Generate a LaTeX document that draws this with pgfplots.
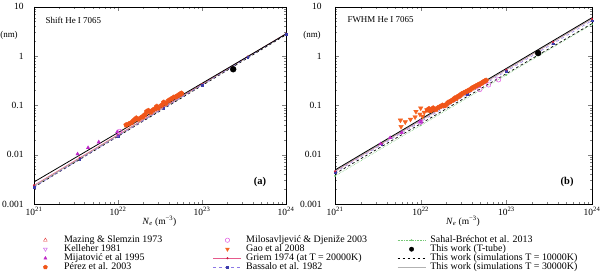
\documentclass[border=0pt]{standalone}
\usepackage{fontspec}
\setmainfont{Liberation Serif}
\usepackage{pgfplots}
\pgfplotsset{compat=1.18}

\definecolor{perez}{RGB}{240,85,25}
\definecolor{perezfit}{RGB}{200,50,20}
\definecolor{gao}{RGB}{245,100,35}
\definecolor{mija}{RGB}{190,40,200}
\definecolor{milo}{RGB}{220,60,220}
\definecolor{kell}{RGB}{200,80,230}
\definecolor{maz}{RGB}{230,50,50}
\definecolor{griem}{RGB}{230,90,140}
\definecolor{griemm}{RGB}{200,30,60}
\definecolor{bass}{RGB}{140,120,230}
\definecolor{bassm}{RGB}{60,60,170}
\definecolor{sahal}{RGB}{120,200,120}

\pgfplotsset{
  legend image code/.code={\draw[mark repeat=2,mark phase=2,#1] plot coordinates {(0bp,0bp) (14bp,0bp) (28bp,0bp)};},
  legax/.style={hide axis, scale only axis, width=10bp, height=10bp, anchor=south west,
    xmin=0, xmax=1, ymin=0, ymax=1,
    legend style={at={(0,0)}, anchor=north west, draw=none, fill=none,
      inner sep=0pt, row sep=0pt,
      cells={anchor=west},
      nodes={font=\fontsize{10}{10}\selectfont, inner xsep=4.5bp, inner ysep=0bp,
        text height=7bp, text depth=2bp}},
    legend cell align=left},
  nolin/.style={dash pattern=on 0pt off 100bp, mark options={solid}},
}

\begin{document}
\begin{tikzpicture}[x=1bp,y=1bp]
\useasboundingbox (0,0) rectangle (600,278);

% ---------------- (a) Shift ----------------
\begin{axis}[at={(34bp,74bp)}, anchor=south west, scale only axis,
  width=252bp, height=197.3bp,
  xmode=log, ymode=log,
  xmin=1e21, xmax=1e24, ymin=0.001, ymax=10,
  xtick={1e21,1e22,1e23,1e24},
  xticklabels={{10\textsuperscript{21}},{10\textsuperscript{22}},{10\textsuperscript{23}},{10\textsuperscript{24}}},
  ytick={0.001,0.01,0.1,1,10},
  yticklabels={0.001,0.01,0.1,1,10},
  tick label style={font=\fontsize{9.5}{9.5}\selectfont},
  major tick length=4bp, minor tick length=2bp,
  yticklabel style={xshift=-7bp},
]
\addplot[gray!60, line width=0.7pt] coordinates {(1e21,0.0023) (1e24,2.83)};
\addplot[black, dash pattern=on 2.5bp off 2.5bp, line width=0.7pt] coordinates {(1e21,0.0022) (1e24,2.70)};
\addplot[sahal, densely dotted, line width=0.6pt, mark=*, mark size=0.6pt, mark options={solid}] coordinates {(1e21,0.00235) (1e22,0.0250) (1e23,0.266) (1e24,2.85)};
\addplot[griem, line width=0.5pt, mark=*, mark size=0.8pt, mark options={griemm, solid}] coordinates {(1e21,0.0024) (3.5e21,0.00867) (1e22,0.0254) (3.5e22,0.0918) (1e23,0.269) (3.5e23,0.973) (1e24,2.85)};
\addplot[bass, dashed, line width=0.5pt, mark=square*, mark size=0.8pt, mark options={bassm, solid}] coordinates {(1e21,0.0022) (3.5e21,0.00805) (1e22,0.0238) (3.5e22,0.0872) (1e23,0.2585) (3.5e23,0.945) (1e24,2.80)};
\addplot[black, line width=0.8pt] coordinates {(1e21,0.0028) (1e24,2.8)};
\addplot[only marks, mark=pentagon*, mark size=2.6pt, color=perez] coordinates {
 (1.25e22,0.040) (1.35e22,0.042) (1.45e22,0.045) (1.55e22,0.050) (1.65e22,0.055)
 (1.75e22,0.052) (1.9e22,0.057) (2.0e22,0.060) (2.1e22,0.065) (2.2e22,0.075)
 (2.3e22,0.078) (2.45e22,0.072) (2.6e22,0.080) (2.75e22,0.085) (2.9e22,0.095)
 (3.0e22,0.088) (3.3e22,0.100) (3.5e22,0.115) (3.7e22,0.110) (4.0e22,0.125)
 (4.3e22,0.135) (4.6e22,0.145) (4.9e22,0.150) (5.2e22,0.160) (5.5e22,0.170) (5.7e22,0.175)};
\addplot[only marks, mark=triangle*, mark size=2pt, color=mija] coordinates {
 (3.3e21,0.0103) (4.4e21,0.0138) (5.9e21,0.018) (9.8e21,0.029)};
\addplot[only marks, mark=triangle, mark size=2pt, mark options={rotate=180}, color=kell] coordinates {(1.0e22,0.025)};
\addplot[only marks, mark=o, mark size=2pt, color=milo] coordinates {(1.05e22,0.030)};
\addplot[only marks, mark=*, mark size=3pt, color=black] coordinates {(2.35e23,0.54)};

\node[anchor=west, font=\fontsize{9}{9}\selectfont] at (rel axis cs:0.032,0.933) {Shift He I 7065};
\node[font=\fontsize{10.5}{10.5}\selectfont\bfseries] at (rel axis cs:0.897,0.111) {(a)};
\end{axis}

% ---------------- (b) FWHM ----------------
\begin{axis}[at={(335bp,74bp)}, anchor=south west, scale only axis,
  width=257bp, height=197.3bp,
  xmode=log, ymode=log,
  xmin=1e21, xmax=1e24, ymin=0.001, ymax=10,
  xtick={1e21,1e22,1e23,1e24},
  xticklabels={{10\textsuperscript{21}},{10\textsuperscript{22}},{10\textsuperscript{23}},{10\textsuperscript{24}}},
  ytick={0.001,0.01,0.1,1,10},
  yticklabels={0.001,0.01,0.1,1,10},
  tick label style={font=\fontsize{9.5}{9.5}\selectfont},
  major tick length=4bp, minor tick length=2bp,
  yticklabel style={xshift=-10bp},
]
\addplot[sahal, densely dotted, line width=0.6pt, mark=*, mark size=0.6pt, mark options={solid}] coordinates {(1e21,0.0037) (1e22,0.0392) (1e23,0.415) (1e24,4.40)};
\addplot[black, dash pattern=on 2.5bp off 2.5bp, line width=0.7pt] coordinates {(1e21,0.0041) (1e24,4.55)};
\addplot[bass, dashed, line width=0.5pt, mark=square*, mark size=0.8pt, mark options={bassm, solid}] coordinates {(1e21,0.0044) (3.5e21,0.01589) (1e22,0.0466) (3.5e22,0.1683) (1e23,0.4937) (3.5e23,1.783) (1e24,5.23)};
\addplot[griem, line width=0.5pt, mark=*, mark size=0.8pt, mark options={griemm, solid}] coordinates {(1e21,0.0046) (3.5e21,0.01672) (1e22,0.0493) (3.5e22,0.179) (1e23,0.528) (3.5e23,1.919) (1e24,5.66)};
\addplot[gray!60, line width=0.7pt] coordinates {(1e21,0.0047) (1e24,5.7)};
\addplot[black, line width=0.8pt] coordinates {(1e21,0.0049) (1e24,6.0)};
\addplot[only marks, mark=triangle*, mark size=2.6pt, mark options={rotate=180}, color=gao] coordinates {
 (5.8e21,0.050) (5.9e21,0.037) (6.6e21,0.046) (7.6e21,0.052) (8.6e21,0.058)
 (8.8e21,0.075) (9.8e21,0.066) (1.0e22,0.088) (1.05e22,0.060) (1.1e22,0.072) (1.18e22,0.081)};
\addplot[only marks, mark=pentagon*, mark size=2.6pt, color=perez] coordinates {
 (1.2e22,0.080) (1.25e22,0.085) (1.3e22,0.078) (1.35e22,0.083) (1.4e22,0.088)
 (1.5e22,0.082) (1.6e22,0.090) (1.7e22,0.095) (1.8e22,0.100) (1.9e22,0.098)
 (2.0e22,0.105) (2.1e22,0.115) (2.2e22,0.118) (2.3e22,0.125) (2.4e22,0.130)
 (2.5e22,0.140) (2.6e22,0.138) (2.7e22,0.150) (2.8e22,0.155) (2.9e22,0.160)
 (3.0e22,0.170) (3.2e22,0.180) (3.4e22,0.190) (3.6e22,0.200) (3.8e22,0.210)
 (4.0e22,0.225) (4.2e22,0.235) (4.4e22,0.245) (4.6e22,0.255) (4.8e22,0.265)
 (5.0e22,0.275) (5.2e22,0.285) (5.4e22,0.300) (5.6e22,0.310) (5.8e22,0.320)};
\addplot[perezfit, line width=1.1pt] coordinates {(1.4e22,0.076) (5.8e22,0.33)};
\addplot[only marks, mark=triangle*, mark size=2pt, color=mija] coordinates {
 (3.4e21,0.0165) (4.4e21,0.022) (6.0e21,0.028) (1.0e22,0.047)};
\addplot[only marks, mark=triangle, mark size=2pt, mark options={rotate=180}, color=kell] coordinates {(1.0e22,0.045)};
\addplot[only marks, mark=o, mark size=2.3pt, color=milo] coordinates {(1.0e22,0.046) (4.9e22,0.21) (6.2e22,0.26) (8.1e22,0.33)};
\addplot[only marks, mark=*, mark size=3pt, color=black] coordinates {(2.35e23,1.15)};

\node[anchor=west, font=\fontsize{9}{9}\selectfont] at (rel axis cs:0.035,0.933) {FWHM He I 7065};
\node[font=\fontsize{10.5}{10.5}\selectfont\bfseries] at (rel axis cs:0.903,0.111) {(b)};
\end{axis}

% ---------------- legend, three columns ----------------
\begin{axis}[legax, at={(31bp,42.5bp)}]
\addlegendimage{color=maz, mark=triangle, mark size=2.2pt, nolin}
\addlegendentry{Mazing \& Slemzin 1973}
\addlegendimage{color=kell, mark=triangle, mark size=2.2pt, nolin, mark options={solid, rotate=180}}
\addlegendentry{Kelleher 1981}
\addlegendimage{color=mija, mark=triangle*, mark size=1.8pt, nolin}
\addlegendentry{Mijatović et al 1995}
\addlegendimage{color=perez, mark=pentagon*, mark size=2.2pt, nolin}
\addlegendentry{Pérez et al. 2003}
\end{axis}
\begin{axis}[legax, at={(213bp,42.5bp)}]
\addlegendimage{color=milo, mark=o, mark size=2.2pt, nolin}
\addlegendentry{Milosavljević \& Djeniže 2003}
\addlegendimage{color=gao, mark=triangle*, mark size=2.2pt, nolin, mark options={solid, rotate=180}}
\addlegendentry{Gao et al 2008}
\addlegendimage{griem, line width=0.5pt, mark=*, mark size=0.8pt, mark options={griemm, solid}}
\addlegendentry{Griem 1974 (at T = 20000K)}
\addlegendimage{bass, dashed, line width=0.5pt, mark=square*, mark size=0.8pt, mark options={bassm, solid}}
\addlegendentry{Bassalo et al. 1982}
\end{axis}
\begin{axis}[legax, at={(397bp,42.5bp)}]
\addlegendimage{sahal, densely dotted, line width=0.6pt, mark=*, mark size=0.6pt, mark options={solid}}
\addlegendentry{Sahal-Bréchot et al. 2013}
\addlegendimage{color=black, mark=*, mark size=2.2pt, nolin}
\addlegendentry{This work (T-tube)}
\addlegendimage{black, dash pattern=on 2.5bp off 2.5bp, line width=0.7pt}
\addlegendentry{This work (simulations T = 10000K)}
\addlegendimage{gray!60, line width=0.7pt}
\addlegendentry{This work (simulations T = 30000K)}
\end{axis}

% axis labels
\node[font=\fontsize{9}{9}\selectfont] at (9,243) {(nm)};
\node[font=\fontsize{9}{9}\selectfont] at (312,243) {(nm)};
\node[font=\fontsize{9.5}{9.5}\selectfont] at (159.5,57) {\textit{N}\textsubscript{\textit{e}} (m\textsuperscript{−3})};
\node[font=\fontsize{9.5}{9.5}\selectfont] at (463,57) {\textit{N}\textsubscript{\textit{e}} (m\textsuperscript{−3})};
\end{tikzpicture}
\end{document}
